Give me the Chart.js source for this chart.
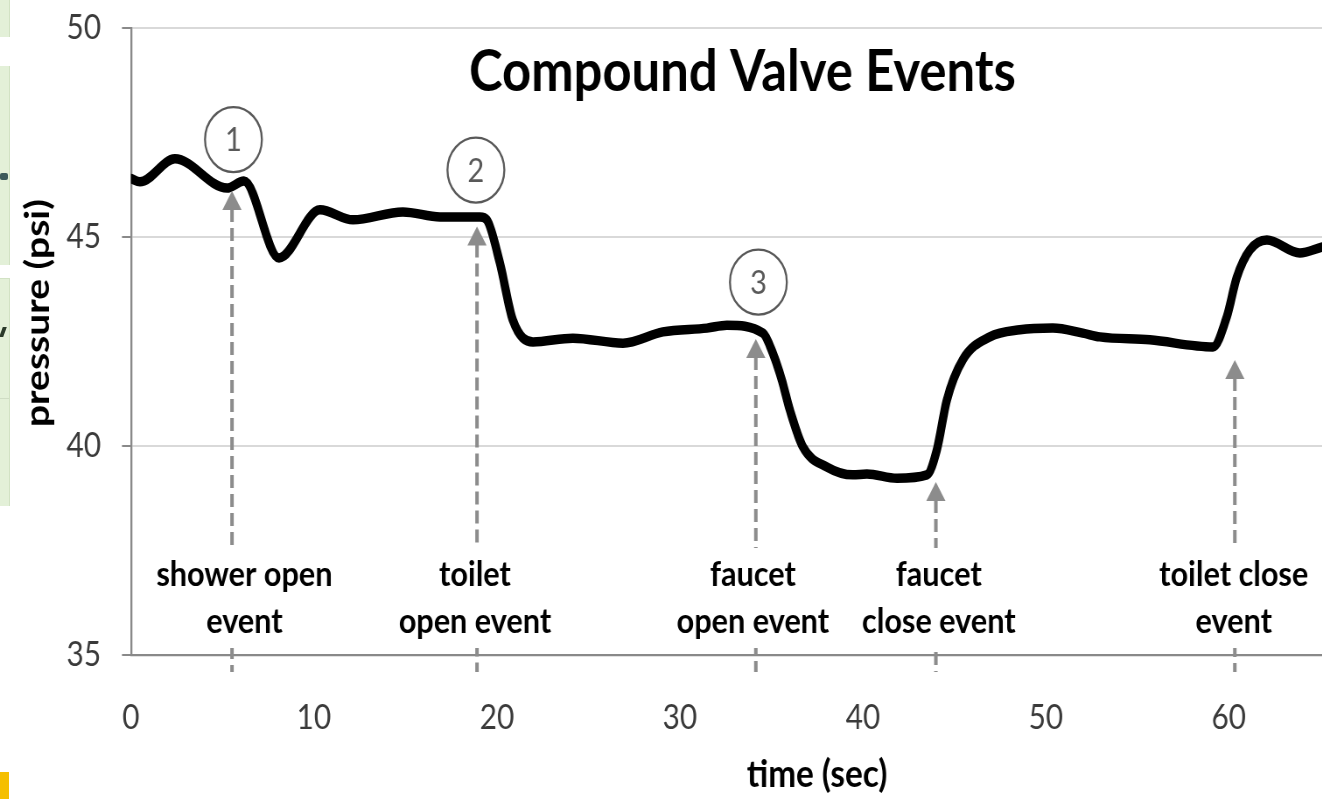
<!DOCTYPE html>
<html>
<head>
<meta charset="utf-8">
<script src="https://cdn.jsdelivr.net/npm/chart.js@4.4.1/dist/chart.umd.min.js"></script>
<style>
  html, body { margin: 0; padding: 0; background: #ffffff; width: 1322px; height: 799px; overflow: hidden; position: relative; }
  #wrap { position: absolute; left: 0; top: 0; width: 1718px; height: 799px; transform: scaleX(0.875); transform-origin: 0 0; }
  .strip { position: absolute; left: 0; width: 9px; background: #e3f0d8; border-right: 1px solid #d2e2c4; }
</style>
</head>
<body>
<div class="strip" style="top:0;height:37px"></div>
<div class="strip" style="top:66px;height:199px"></div>
<div class="strip" style="top:278px;height:227px;border-top:1px solid #d2e2c4"></div>
<div style="position:absolute;left:0;top:398px;width:9px;height:1px;background:#cfdcc4"></div>
<div style="position:absolute;left:0;top:173px;width:8px;height:7px;background:#3c5a5a;border-radius:2px"></div>
<div style="position:absolute;left:1px;top:327px;width:4px;height:10px;background:#2a3a2a;transform:skewX(-20deg)"></div>
<div style="position:absolute;left:0;top:772px;width:9px;height:27px;background:#f5bf00"></div>
<div id="wrap"><canvas id="c" width="1718" height="799"></canvas></div>
<script>
// ---- data ----
const times = [0, 0.49, 2.40, 5.25, 6.17, 8.09, 10.33, 12.13, 14.86, 16.89, 19.07, 19.45, 20.16, 20.87, 21.97, 24.15, 26.89, 29.07, 31.48, 32.57, 34.54, 35.08, 35.57, 36.01, 36.72, 38.03, 39.45, 40.22, 41.86, 43.50, 44.04, 44.59, 45.46, 46.94, 48.58, 50.38, 52.02, 52.95, 55.68, 59.13, 59.89, 60.44, 61.15, 62.08, 63.88, 65.08];
const pressures = [46.40, 46.32, 46.87, 46.17, 46.34, 44.50, 45.65, 45.41, 45.60, 45.48, 45.48, 45.41, 44.38, 43.01, 42.49, 42.58, 42.46, 42.73, 42.82, 42.89, 42.70, 42.22, 41.58, 40.86, 39.98, 39.50, 39.31, 39.33, 39.23, 39.31, 39.90, 41.10, 42.06, 42.61, 42.78, 42.82, 42.70, 42.61, 42.54, 42.37, 43.09, 44.04, 44.69, 44.93, 44.62, 44.76];

const eventTimes = [5.52, 18.91, 34.15, 43.99, 60.33];
const eventTipPressures = [46.10, 45.25, 42.56, 39.14, 42.06];
const eventLabelTimes = [6.20, 18.80, 33.99, 44.15, 60.27];
const eventLabels = [
  ["shower open", "event"],
  ["toilet", "open event"],
  ["faucet", "open event"],
  ["faucet", "close event"],
  ["toilet close", "event"]
];

const markerNumbers = ["1", "2", "3"];
const markerTimes = [5.60, 18.85, 34.29];
const markerPressures = [47.33, 46.60, 43.92];

const chartTitle = "Compound Valve Events";
const xTitle = "time (sec)";
const yTitle = "pressure (psi)";
const xMin = 0, xMax = 75, xStep = 10;
const yMin = 35, yMax = 50, yStep = 5;

// ---- annotation plugin ----
const valveEvents = {
  id: 'valveEvents',
  afterDatasetsDraw(chart) {
    const { ctx, chartArea, scales: { x, y } } = chart;
    const bottom = chartArea.bottom;
    ctx.save();
    // dashed arrows
    eventTimes.forEach((t, i) => {
      const px = x.getPixelForValue(t);
      const tip = y.getPixelForValue(eventTipPressures[i]);
      const headH = 19, headW = 22;
      ctx.strokeStyle = '#8c8c8c';
      ctx.lineWidth = 4;
      ctx.setLineDash([13, 6]);
      ctx.beginPath();
      ctx.moveTo(px, tip + headH - 1);
      ctx.lineTo(px, bottom + 17);
      ctx.stroke();
      ctx.setLineDash([]);
      ctx.fillStyle = '#8c8c8c';
      ctx.beginPath();
      ctx.moveTo(px, tip);
      ctx.lineTo(px - headW / 2, tip + headH);
      ctx.lineTo(px + headW / 2, tip + headH);
      ctx.closePath();
      ctx.fill();
    });
    // event labels on white boxes
    ctx.font = 'bold 35px Lato';
    ctx.textAlign = 'center';
    ctx.textBaseline = 'alphabetic';
    eventLabels.forEach((lines, i) => {
      const cx = x.getPixelForValue(eventLabelTimes[i]);
      const w = Math.max(...lines.map(s => ctx.measureText(s).width)) + 16;
      ctx.fillStyle = '#ffffff';
      ctx.fillRect(cx - w / 2, bottom - 107, w, 100);
      ctx.fillStyle = '#000000';
      ctx.fillText(lines[0], cx, bottom - 79 + 10);
      ctx.fillText(lines[1], cx, bottom - 32 + 10);
    });
    // numbered circles
    markerNumbers.forEach((n, i) => {
      const cx = x.getPixelForValue(markerTimes[i]);
      const cy = y.getPixelForValue(markerPressures[i]);
      ctx.strokeStyle = '#595959';
      ctx.lineWidth = 2.3;
      ctx.beginPath();
      ctx.arc(cx, cy, 32.5, 0, Math.PI * 2);
      ctx.stroke();
      ctx.fillStyle = '#595959';
      ctx.font = '33px Lato';
      ctx.textAlign = 'center';
      ctx.textBaseline = 'alphabetic';
      ctx.fillText(n, cx, cy + 11.8);
    });
    ctx.restore();
  }
};

Chart.defaults.font.family = 'Lato';

new Chart(document.getElementById('c'), {
  type: 'line',
  data: {
    datasets: [{
      data: times.map((t, i) => ({ x: t, y: pressures[i] })),
      borderColor: '#000000',
      borderWidth: 9.5,
      pointRadius: 0,
      cubicInterpolationMode: 'monotone',
      borderJoinStyle: 'round',
      borderCapStyle: 'round',
      fill: false
    }]
  },
  options: {
    responsive: false,
    animation: false,
    events: [],
    layout: { padding: { top: 0, right: 0, bottom: 0, left: -21 } },
    plugins: {
      legend: { display: false },
      tooltip: { enabled: false },
      title: {
        display: true,
        text: chartTitle,
        color: '#000000',
        font: { family: 'Lato', size: 58, weight: 'bold' },
        padding: { top: 37.7, bottom: -79.3 }
      }
    },
    scales: {
      x: {
        type: 'linear',
        min: xMin, max: xMax,
        afterFit(s) { s.height = 144; },
        grid: { display: false, drawTicks: false, tickLength: 0 },
        border: { display: true, color: '#898989', width: 2.3 },
        ticks: {
          stepSize: xStep, includeBounds: false, autoSkip: false,
          maxRotation: 0, minRotation: 0,
          padding: 42.6, color: '#3a3a3a',
          font: { family: 'Lato', size: 34 }
        },
        title: {
          display: true, text: xTitle, color: '#000000',
          font: { family: 'Lato', size: 38, weight: 'bold' },
          padding: { top: 0, bottom: 1 }
        }
      },
      y: {
        min: yMin, max: yMax,
        afterFit(s) { s.width = 170.7; },
        grid: {
          color: (c) => (c.tick && c.tick.value === yMin) ? 'rgba(0,0,0,0)' : '#d9d9d9',
          lineWidth: 2,
          drawTicks: true, tickLength: 10.3,
          tickColor: '#898989', tickWidth: 2
        },
        border: { display: true, color: '#898989', width: 2.3 },
        ticks: {
          stepSize: yStep, padding: 24, color: '#3a3a3a',
          font: { family: 'Lato', size: 34, lineHeight: 0.2 }
        },
        title: {
          display: true, text: '      ' + yTitle, color: '#000000',
          font: { family: 'Lato', size: 39, weight: 'bold' },
          padding: { top: 41, bottom: 0 }
        }
      }
    }
  },
  plugins: [valveEvents]
});
</script>
</body>
</html>
